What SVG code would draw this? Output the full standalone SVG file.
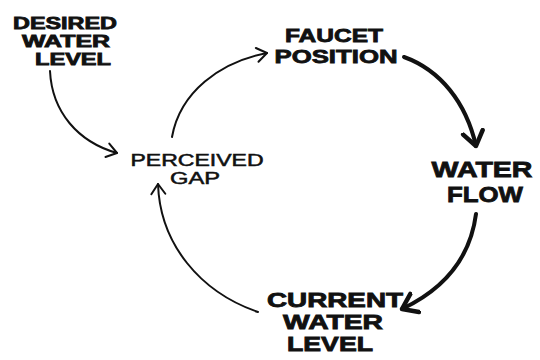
<svg xmlns="http://www.w3.org/2000/svg" width="540" height="360" viewBox="0 0 540 360">
<style>
.bg{fill:#fff}
.lbl{font-family:"Liberation Sans","DejaVu Sans",sans-serif;font-weight:bold;fill:#111;text-anchor:middle;stroke:#111;stroke-width:0.8}
.thin{font-family:"Liberation Sans","DejaVu Sans",sans-serif;font-weight:normal;fill:#111;text-anchor:middle;stroke:#111;stroke-width:0.5}
.c1{fill:none;stroke:#111;stroke-width:2;stroke-linecap:round}
.c2{fill:none;stroke:#111;stroke-width:4;stroke-linecap:round}
</style>
<defs>
<marker id="ah" markerUnits="userSpaceOnUse" markerWidth="20" markerHeight="20" refX="12" refY="10" orient="auto">
<path d="M2,3 L12,10 L2,17" fill="none" stroke="#111" stroke-width="2" stroke-linecap="round" stroke-linejoin="round"/>
</marker>
<marker id="ahb" markerUnits="userSpaceOnUse" markerWidth="26" markerHeight="26" refX="16" refY="13" orient="auto">
<path d="M2,3 L16,13 L2,23" fill="none" stroke="#111" stroke-width="4.5" stroke-linecap="round" stroke-linejoin="round"/>
</marker>
</defs>
<rect class="bg" x="0" y="0" width="540" height="360"/>
<g id="connectors">
<path class="c1" d="M50,71 C52,112 78,142 117,153" marker-end="url(#ah)"/>
<path class="c1" d="M172,137 C180,92 220,62 267,53" marker-end="url(#ah)"/>
<path class="c2" d="M404,57 C440,70 466,102 476,146" marker-end="url(#ahb)"/>
<path class="c2" d="M476,214 C470,260 442,290 402,309" marker-end="url(#ahb)"/>
<path class="c1" d="M258,312 C200,292 160,244 158,184" marker-end="url(#ah)"/>
</g>
<g id="desired">
<text class="lbl" font-size="16" x="65" y="29" textLength="104" lengthAdjust="spacingAndGlyphs">DESIRED</text>
<text class="lbl" font-size="16" x="66" y="47" textLength="88" lengthAdjust="spacingAndGlyphs">WATER</text>
<text class="lbl" font-size="16" x="73" y="65" textLength="76" lengthAdjust="spacingAndGlyphs">LEVEL</text>
</g>
<g id="faucet">
<text class="lbl" font-size="18.5" x="334" y="42" textLength="98" lengthAdjust="spacingAndGlyphs">FAUCET</text>
<text class="lbl" font-size="18.5" x="336" y="63" textLength="123" lengthAdjust="spacingAndGlyphs">POSITION</text>
</g>
<g id="perceived">
<text class="thin" font-size="16" x="197" y="166" textLength="133" lengthAdjust="spacingAndGlyphs">PERCEIVED</text>
<text class="thin" font-size="16" x="195" y="184" textLength="50" lengthAdjust="spacingAndGlyphs">GAP</text>
</g>
<g id="flow">
<text class="lbl" font-size="22" x="482" y="177" textLength="101" lengthAdjust="spacingAndGlyphs">WATER</text>
<text class="lbl" font-size="22" x="485" y="202" textLength="76" lengthAdjust="spacingAndGlyphs">FLOW</text>
</g>
<g id="current">
<text class="lbl" font-size="19.5" x="335" y="307" textLength="136" lengthAdjust="spacingAndGlyphs">CURRENT</text>
<text class="lbl" font-size="19.5" x="333" y="329" textLength="100" lengthAdjust="spacingAndGlyphs">WATER</text>
<text class="lbl" font-size="19.5" x="330" y="351" textLength="86" lengthAdjust="spacingAndGlyphs">LEVEL</text>
</g>
</svg>
